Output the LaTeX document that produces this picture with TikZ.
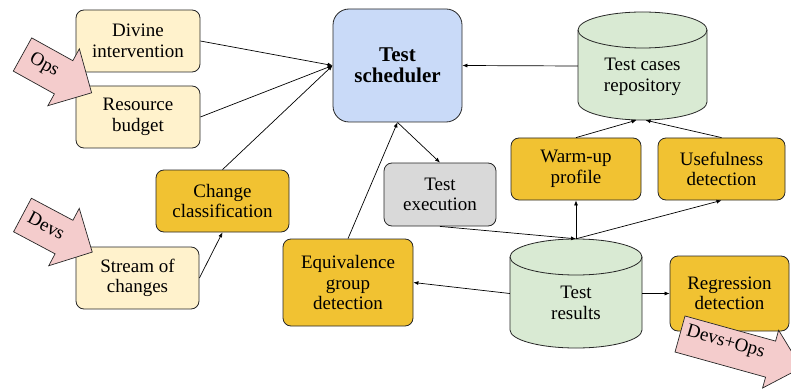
\documentclass[tikz,border=0pt]{standalone}
\usepackage{fontspec}
\setmainfont{Liberation Serif}
\usetikzlibrary{arrows.meta}
\definecolor{lyel}{HTML}{FFF2CC}
\definecolor{gold}{HTML}{F1C232}
\definecolor{lblue}{HTML}{C9DAF8}
\definecolor{lgreen}{HTML}{D9EAD3}
\definecolor{lgray}{HTML}{D9D9D9}
\definecolor{lpink}{HTML}{F4CCCC}
\begin{document}
\begin{tikzpicture}[x=1pt,y=-1pt,
  txt/.style={align=center, inner sep=0pt, font=\fontsize{19}{20.5}\selectfont},
  box/.style={txt, draw=black!85, line width=0.8pt, rounded corners=8pt},
  inbox/.style={box, fill=lyel},
  goldbox/.style={box, fill=gold},
  conn/.style={line width=0.7pt, -{Latex[length=5pt,width=4pt]}},
  cyl/.style={draw=black!85, line width=0.8pt, fill=lgreen},
  bigarrow/.style={draw=black!85, line width=0.7pt, fill=lpink},
]
\useasboundingbox (0,0) rectangle (791,390);

% input boxes
\node[inbox, minimum width=124pt, minimum height=62pt] (divine) at (138,41) {Divine\\intervention};
\node[inbox, minimum width=124pt, minimum height=62pt] (budget) at (138,117) {Resource\\budget};
\node[inbox, minimum width=123pt, minimum height=62pt] (stream) at (137.5,278) {Stream of\\changes};
\node[goldbox, minimum width=133pt, minimum height=62pt] (change) at (222.5,201) {Change\\classification};

% scheduler
\node[box, fill=lblue, rounded corners=16pt, minimum width=129pt, minimum height=113pt, font=\fontsize{21}{21.5}\selectfont\bfseries] (sched) at (397.5,65.5) {Test\\scheduler};

% test execution
\node[box, fill=lgray, minimum width=112pt, minimum height=63pt] (exec) at (440,194.5) {Test\\execution};

% gold boxes
\node[goldbox, minimum width=130pt, minimum height=62pt] (warm) at (576,169) {Warm-up\\profile};
\node[goldbox, minimum width=127pt, minimum height=62pt] (useful) at (721.5,169) {Usefulness\\detection};
\node[goldbox, minimum width=130pt, minimum height=87pt] (equiv) at (348,282.5) {Equivalence\\group\\detection};
\node[goldbox, minimum width=119pt, minimum height=75pt] (regr) at (729.5,293.5) {Regression\\detection};

% repository cylinder
\path[cyl] (578,30) -- (578,102) arc (180:360:64.5pt and 18pt) -- (707,30) arc (0:180:64.5pt and 18pt) -- cycle;
\draw[draw=black!85, line width=0.8pt] (578,30) arc (180:360:64.5pt and 18pt);
\node[inner sep=0pt, minimum width=129pt, minimum height=108pt] (repo) at (642.5,66) {};
\node[txt] (repotext) at (642.5,77) {Test cases\\repository};

% results cylinder
\path[cyl] (510,257) -- (510,330) arc (180:360:66pt and 18pt) -- (642,257) arc (0:180:66pt and 18pt) -- cycle;
\draw[draw=black!85, line width=0.8pt] (510,257) arc (180:360:66pt and 18pt);
\node[inner sep=0pt, minimum width=132pt, minimum height=109pt] (results) at (576,293.5) {};
\node[txt] (resultstext) at (576,303) {Test\\results};

% connectors
\draw[conn] (divine.east) -- (sched.west);
\draw[conn] (budget.east) -- (sched.west);
\draw[conn] (change.north) -- (sched.west);
\draw[conn] (stream.east) -- (change.south);
\draw[conn] (repo.west) -- (sched.east);
\draw[conn] (warm.north) -- ([xshift=-6pt]repo.south);
\draw[conn] (useful.north) -- ([xshift=3pt]repo.south);
\draw[conn] (sched.south) -- (exec.north);
\draw[conn] (equiv.north) -- (sched.south);
\draw[conn] (exec.south) -- (results.north);
\draw[conn] (results.north) -- (warm.south);
\draw[conn] (results.north) -- (useful.south);
\draw[conn] (results.west) -- (equiv.east);
\draw[conn] (results.east) -- (regr.west);

% big arrows
\begin{scope}[shift={(22.5,54.5)}, rotate=-29]
  \path[bigarrow] (0,-19) -- (47,-19) -- (47,-32.5) -- (79,0) -- (47,32.5) -- (47,19) -- (0,19) -- cycle;
  \node[txt, rotate=-29] (ops) at (24,-1) {Ops};
\end{scope}
\begin{scope}[shift={(22.5,215)}, rotate=-28]
  \path[bigarrow] (0,-19) -- (47,-19) -- (47,-32.5) -- (79,0) -- (47,32.5) -- (47,19) -- (0,19) -- cycle;
  \node[txt, rotate=-28] (devs) at (26,-2) {Devs};
\end{scope}
\begin{scope}
  \clip (0,0) rectangle (791,390);
  \begin{scope}[shift={(680,334)}, rotate=-15.5]
    \path[bigarrow] (0,-18.7) -- (94,-18.7) -- (94,-30) -- (126,0) -- (94,30) -- (94,18.7) -- (0,18.7) -- cycle;
    \node[txt, rotate=-16] (devsops) at (46,-4) {Devs+Ops};
  \end{scope}
\end{scope}
\end{tikzpicture}
\end{document}
